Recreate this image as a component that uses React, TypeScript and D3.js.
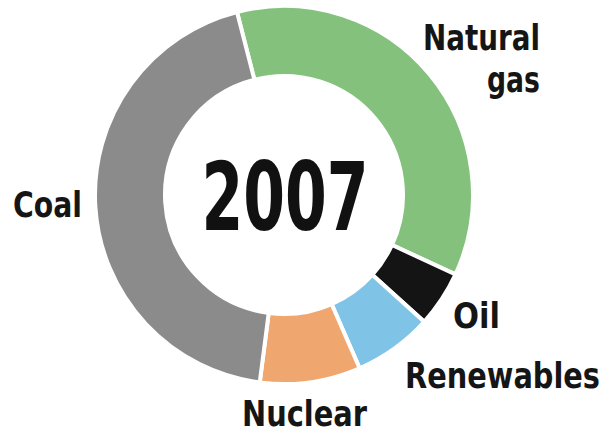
import React from "react";
import * as d3 from "d3";

const categories = ["Natural gas", "Oil", "Renewables", "Nuclear", "Coal"];
const values = [35.9, 4.8, 6.75, 8.6, 43.95];
const colors = ["#84c17d", "#141414", "#7fc3e6", "#efa76f", "#8b8b8b"];
const yearLabel = "2007";

// label layout: lines, right edge x, baseline y, target width
const labelLayout = [
  { lines: [{ t: "Natural", x: 540, y: 50, w: 117 }, { t: "gas", x: 540, y: 91.5, w: 53 }] },
  { lines: [{ t: "Oil", x: 500, y: 328, w: 47 }] },
  { lines: [{ t: "Renewables", x: 600, y: 388, w: 195 }] },
  { lines: [{ t: "Nuclear", x: 367, y: 425.5, w: 125 }] },
  { lines: [{ t: "Coal", x: 82, y: 216.5, w: 69 }] },
];

const W = 609;
const H = 433;
const cx = 284;
const cy = 195;
const outerR = 189;
const innerR = 119;
const startDeg = -14.4;
const SX = 0.87;

const FONT = "'Liberation Sans Narrow', 'DejaVu Sans Condensed', 'Liberation Sans', Arial, sans-serif";

export default function App() {
  const start = (startDeg * Math.PI) / 180;
  const pie = d3
    .pie<number>()
    .sort(null)
    .value((d) => d)
    .startAngle(start)
    .endAngle(start + 2 * Math.PI);
  const arcs = pie(values);
  const arcGen = d3.arc<d3.PieArcDatum<number>>().innerRadius(innerR).outerRadius(outerR);

  return (
    <svg
      width={W}
      height={H}
      style={{ position: "absolute", left: 0, top: 0, background: "#fff" }}
      fontFamily={FONT}
    >
      <rect width={W} height={H} fill="#fff" />
      <g transform={`translate(${cx},${cy})`}>
        {arcs.map((a, i) => (
          <path key={categories[i]} d={arcGen(a) || ""} fill={colors[i]} stroke="#fff" strokeWidth={4} strokeLinejoin="miter" />
        ))}
      </g>
      <text
        x={285}
        y={230}
        textAnchor="middle"
        fontSize={94}
        fontWeight="bold"
        fill="#111"
        textLength={167}
        lengthAdjust="spacingAndGlyphs"
      >
        {yearLabel}
      </text>
      {labelLayout.map((lab, i) =>
        lab.lines.map((ln, j) => (
          <text
            key={`${i}-${j}`}
            transform={`translate(${ln.x},${ln.y}) scale(${SX},1)`}
            textAnchor="end"
            fontSize={36}
            fontWeight="bold"
            fill="#151515"
            textLength={ln.w / SX}
            lengthAdjust="spacingAndGlyphs"
          >
            {ln.t}
          </text>
        ))
      )}
    </svg>
  );
}
